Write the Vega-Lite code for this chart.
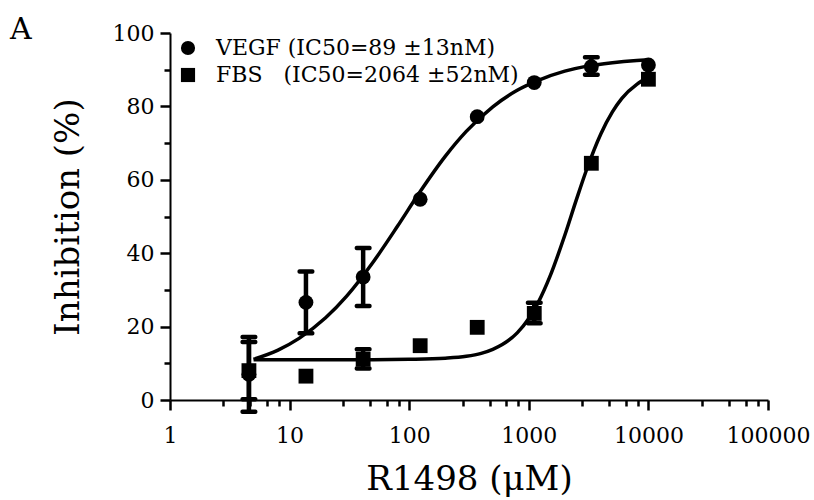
{
  "$schema": "https://vega.github.io/schema/vega-lite/v6.json",
  "width": 598,
  "height": 367,
  "autosize": {"type": "none"},
  "padding": {"left": 170, "top": 33, "right": 46, "bottom": 100},
  "background": "white",
  "title": {"text": "A", "anchor": "start", "frame": "group", "fontSize": 30, "fontWeight": "normal", "font": "DejaVu Serif", "color": "black", "dx": -160, "dy": 23, "offset": 0},
  "datasets": {
    "points": [
      {"x": 4.57, "y": 7.0, "lo": -3.2, "hi": 17.2, "series": "VEGF"},
      {"x": 13.7, "y": 26.6, "lo": 18.2, "hi": 35.0, "series": "VEGF"},
      {"x": 41.2, "y": 33.5, "lo": 25.6, "hi": 41.4, "series": "VEGF"},
      {"x": 123.5, "y": 54.7, "lo": null, "hi": null, "series": "VEGF"},
      {"x": 370.4, "y": 77.2, "lo": null, "hi": null, "series": "VEGF"},
      {"x": 1111, "y": 86.5, "lo": null, "hi": null, "series": "VEGF"},
      {"x": 3333, "y": 90.8, "lo": 88.6, "hi": 93.4, "series": "VEGF"},
      {"x": 10000, "y": 91.3, "lo": null, "hi": null, "series": "VEGF"},
      {"x": 4.57, "y": 8.0, "lo": 0.2, "hi": 15.8, "series": "FBS"},
      {"x": 13.7, "y": 6.5, "lo": null, "hi": null, "series": "FBS"},
      {"x": 41.2, "y": 11.1, "lo": 8.6, "hi": 13.8, "series": "FBS"},
      {"x": 123.5, "y": 14.8, "lo": null, "hi": null, "series": "FBS"},
      {"x": 370.4, "y": 19.8, "lo": null, "hi": null, "series": "FBS"},
      {"x": 1111, "y": 23.6, "lo": 20.9, "hi": 26.5, "series": "FBS"},
      {"x": 3333, "y": 64.5, "lo": null, "hi": null, "series": "FBS"},
      {"x": 10000, "y": 87.4, "lo": null, "hi": null, "series": "FBS"}
    ],
    "curves": [
      {"x": 5, "y": 11.1, "series": "VEGF"},
      {"x": 8, "y": 13.6, "series": "VEGF"},
      {"x": 12, "y": 16.8, "series": "VEGF"},
      {"x": 20, "y": 22.4, "series": "VEGF"},
      {"x": 30, "y": 28.3, "series": "VEGF"},
      {"x": 50, "y": 37.6, "series": "VEGF"},
      {"x": 80, "y": 47.4, "series": "VEGF"},
      {"x": 120, "y": 56.2, "series": "VEGF"},
      {"x": 200, "y": 66.4, "series": "VEGF"},
      {"x": 300, "y": 73.2, "series": "VEGF"},
      {"x": 500, "y": 79.9, "series": "VEGF"},
      {"x": 800, "y": 84.4, "series": "VEGF"},
      {"x": 1200, "y": 87.1, "series": "VEGF"},
      {"x": 2000, "y": 89.6, "series": "VEGF"},
      {"x": 3000, "y": 90.9, "series": "VEGF"},
      {"x": 5000, "y": 91.9, "series": "VEGF"},
      {"x": 8000, "y": 92.5, "series": "VEGF"},
      {"x": 10000, "y": 92.7, "series": "VEGF"},
      {"x": 5, "y": 11.0, "series": "FBS"},
      {"x": 50, "y": 11.0, "series": "FBS"},
      {"x": 100, "y": 11.1, "series": "FBS"},
      {"x": 200, "y": 11.4, "series": "FBS"},
      {"x": 300, "y": 11.9, "series": "FBS"},
      {"x": 400, "y": 12.7, "series": "FBS"},
      {"x": 500, "y": 13.8, "series": "FBS"},
      {"x": 600, "y": 15.1, "series": "FBS"},
      {"x": 800, "y": 18.3, "series": "FBS"},
      {"x": 1000, "y": 22.2, "series": "FBS"},
      {"x": 1200, "y": 26.6, "series": "FBS"},
      {"x": 1500, "y": 33.6, "series": "FBS"},
      {"x": 2000, "y": 44.9, "series": "FBS"},
      {"x": 2500, "y": 54.6, "series": "FBS"},
      {"x": 3000, "y": 62.2, "series": "FBS"},
      {"x": 4000, "y": 72.5, "series": "FBS"},
      {"x": 5000, "y": 78.5, "series": "FBS"},
      {"x": 6000, "y": 82.2, "series": "FBS"},
      {"x": 8000, "y": 86.0, "series": "FBS"},
      {"x": 10000, "y": 87.9, "series": "FBS"}
    ]
  },
  "encoding": {
    "x": {
      "field": "x", "type": "quantitative",
      "scale": {"type": "log", "domain": [1, 100000], "nice": false},
      "axis": {
        "title": "R1498 (μM)",
        "values": [1, 2.8, 4.7, 6.5, 8.2, 10, 28, 47, 65, 82, 100, 280, 470, 650, 820, 1000, 2800, 4700, 6500, 8200, 10000, 28000, 47000, 65000, 82000, 100000],
        "labelExpr": "indexof([1,10,100,1000,10000,100000], datum.value) >= 0 ? format(datum.value, 'd') : ''",
        "tickSize": {"condition": {"test": "indexof([1,10,100,1000,10000,100000], datum.value) >= 0", "value": 10}, "value": 6},
        "labelPadding": 15,
        "titlePadding": 16,
        "labelOverlap": false,
        "labelFlush": false,
        "labelBound": false
      }
    },
    "y": {
      "field": "y", "type": "quantitative",
      "scale": {"domain": [0, 100], "nice": false, "zero": false},
      "axis": {
        "title": "Inhibition (%)",
        "values": [0, 10, 20, 30, 40, 50, 60, 70, 80, 90, 100],
        "labelExpr": "datum.value % 20 == 0 ? datum.label : ''",
        "tickSize": {"condition": {"test": "datum.value % 20 == 0", "value": 10}, "value": 6},
        "labelPadding": 6,
        "titlePadding": 27,
        "labelOverlap": false,
        "labelFlush": false,
        "labelBound": false
      }
    }
  },
  "layer": [
    {
      "data": {"name": "curves"},
      "mark": {"type": "line", "color": "black", "strokeWidth": 3.5, "interpolate": "monotone"},
      "encoding": {"detail": {"field": "series"}}
    },
    {
      "data": {"name": "points"},
      "transform": [{"filter": "datum.lo != null"}],
      "mark": {"type": "rule", "color": "black", "opacity": 1, "strokeWidth": 4.5},
      "encoding": {"y": {"field": "lo", "type": "quantitative"}, "y2": {"field": "hi"}}
    },
    {
      "data": {"name": "points"},
      "transform": [{"filter": "datum.lo != null"}],
      "mark": {"type": "tick", "orient": "horizontal", "color": "black", "opacity": 1, "size": 17, "thickness": 4.5, "cornerRadius": 2},
      "encoding": {"y": {"field": "lo", "type": "quantitative"}}
    },
    {
      "data": {"name": "points"},
      "transform": [{"filter": "datum.lo != null"}],
      "mark": {"type": "tick", "orient": "horizontal", "color": "black", "opacity": 1, "size": 17, "thickness": 4.5, "cornerRadius": 2},
      "encoding": {"y": {"field": "hi", "type": "quantitative"}}
    },
    {
      "data": {"name": "points"},
      "mark": {"type": "point", "filled": true, "color": "black", "opacity": 1, "size": 220},
      "encoding": {
        "shape": {
          "field": "series", "type": "nominal",
          "scale": {"domain": ["VEGF", "FBS"], "range": ["circle", "square"]},
          "legend": {
            "title": null,
            "orient": "none",
            "legendX": 7,
            "legendY": 4,
            "labelExpr": "datum.label == 'VEGF' ? 'VEGF (IC50=89 ±13nM)' : 'FBS\u00a0\u00a0\u00a0(IC50=2064 ±52nM)'",
            "labelFontSize": 22,
            "labelFont": "DejaVu Serif",
            "labelColor": "black",
            "labelLimit": 500,
            "labelOffset": 17,
            "symbolSize": 200,
            "symbolFillColor": "black",
            "symbolStrokeColor": "black",
            "symbolOpacity": 1,
            "rowPadding": 5,
            "padding": 0
          }
        }
      }
    }
  ],
  "config": {
    "font": "DejaVu Serif",
    "view": {"stroke": null},
    "legend": {"labelFont": "DejaVu Serif"},
    "axis": {
      "domainColor": "black", "domainWidth": 2,
      "tickColor": "black", "tickWidth": 2.5,
      "labelColor": "black", "titleColor": "black",
      "labelFont": "DejaVu Serif", "titleFont": "DejaVu Serif",
      "labelFontSize": 22, "titleFontSize": 34, "titleFontWeight": "normal",
      "grid": false
    }
  }
}
